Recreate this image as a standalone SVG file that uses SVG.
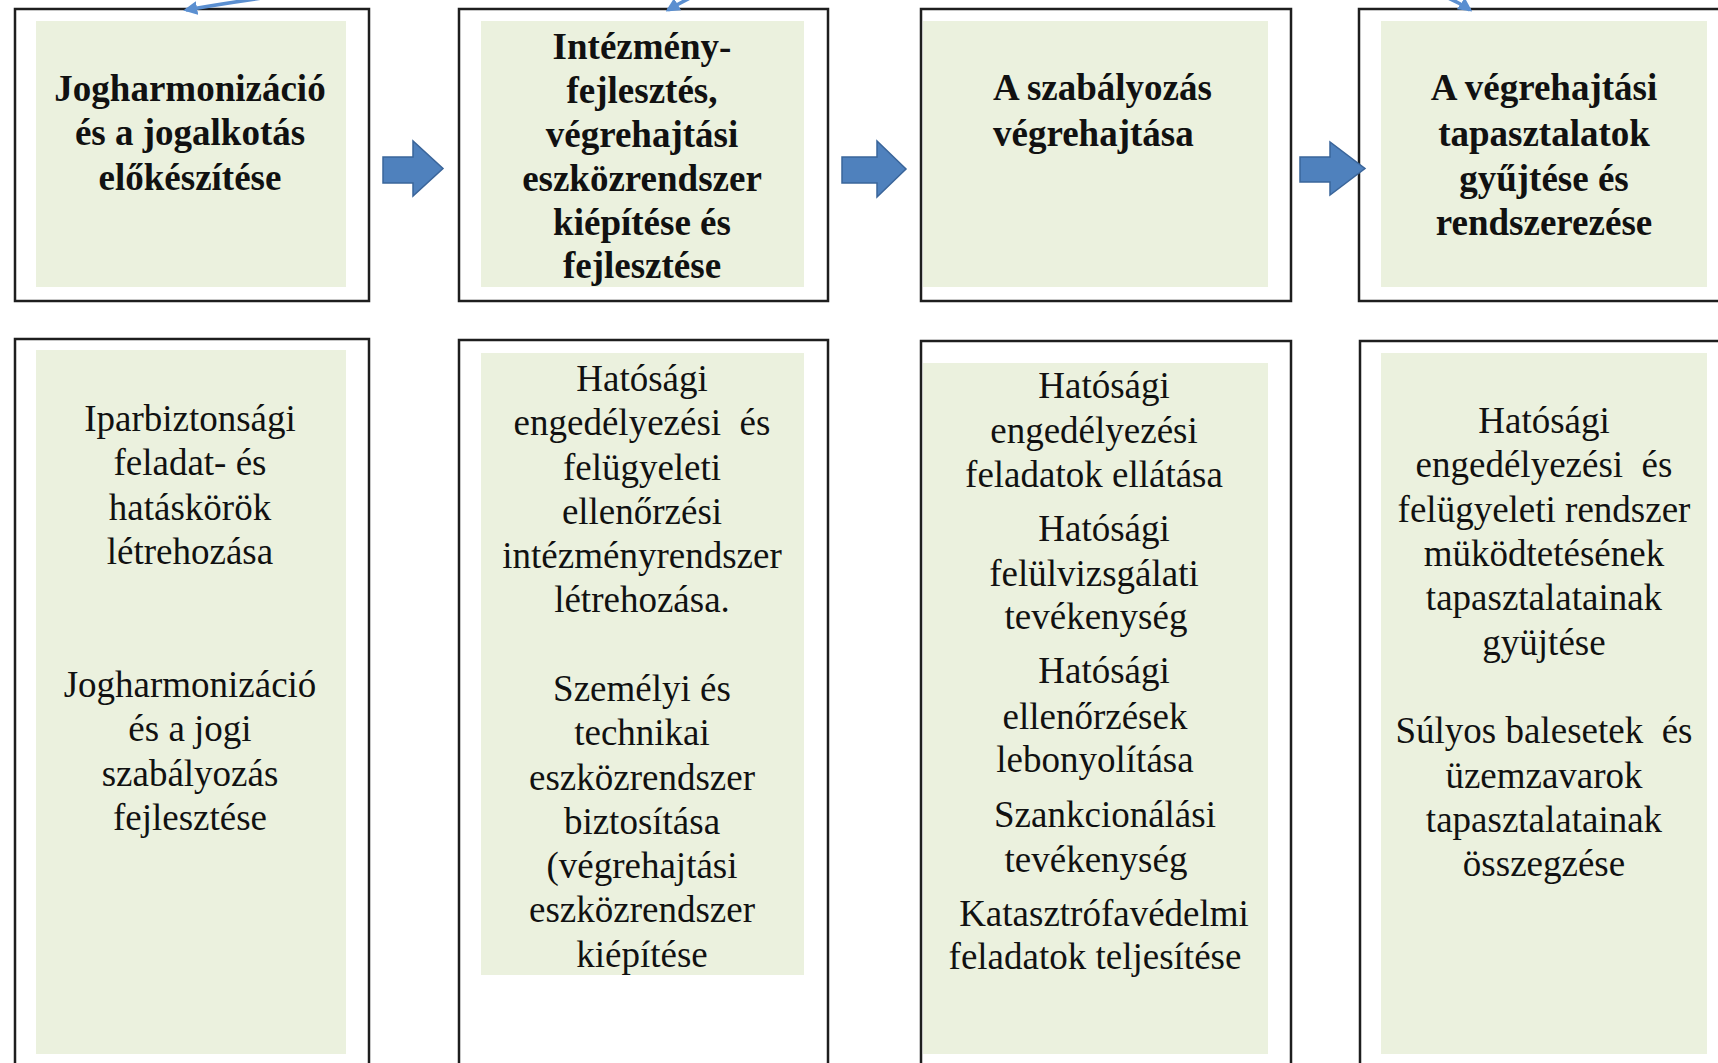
<svg xmlns="http://www.w3.org/2000/svg" width="1718" height="1063" viewBox="0 0 1718 1063">
<defs>
<style>
.box{fill:#ffffff;stroke:#1e1e1e;stroke-width:2.5}
.fill{fill:#ebf1de}
.t{font-family:"Liberation Serif","Times New Roman",serif;font-size:37px;fill:#111;text-anchor:middle}
.b{font-weight:bold}
.blk{fill:#4f81bd;stroke:#3a659a;stroke-width:1.5}
.cur{fill:none;stroke:#5b8fd0;stroke-width:3.5}
</style>
<marker id="ah" viewBox="0 0 10 10" refX="8" refY="5" markerWidth="4" markerHeight="4" orient="auto">
<path d="M0,0 L10,5 L0,10 z" fill="#5b8fd0"/>
</marker>
</defs>
<rect width="1718" height="1063" fill="#ffffff"/>

<g id="node-top1">
<rect class="box" x="15" y="9" width="354" height="292"/>
<rect class="fill" x="36" y="21" width="310" height="266"/>
<text class="t b" x="190"><tspan x="190" y="101">Jogharmonizáció</tspan><tspan x="190" y="145">és a jogalkotás</tspan><tspan x="190" y="190">előkészítése</tspan></text>
</g>

<g id="node-top2">
<rect class="box" x="459" y="9" width="369" height="292"/>
<rect class="fill" x="481" y="21" width="323" height="266"/>
<text class="t b"><tspan x="642" y="59">Intézmény-</tspan><tspan x="642" y="103">fejlesztés,</tspan><tspan x="642" y="147">végrehajtási</tspan><tspan x="642" y="191">eszközrendszer</tspan><tspan x="642" y="235">kiépítése és</tspan><tspan x="642" y="278">fejlesztése</tspan></text>
</g>

<g id="node-top3">
<rect class="box" x="921" y="9" width="370" height="292"/>
<rect class="fill" x="923" y="21" width="345" height="266"/>
<text class="t b" style="text-anchor:start"><tspan x="993" y="100">A szabályozás</tspan><tspan x="993" y="146">végrehajtása</tspan></text>
</g>

<g id="node-top4">
<rect class="box" x="1359" y="9" width="380" height="292"/>
<rect class="fill" x="1381" y="21" width="326" height="266"/>
<text class="t b"><tspan x="1544" y="100">A végrehajtási</tspan><tspan x="1544" y="146">tapasztalatok</tspan><tspan x="1544" y="191">gyűjtése és</tspan><tspan x="1544" y="235">rendszerezése</tspan></text>
</g>

<g id="node-bottom1">
<rect class="box" x="15" y="339" width="354" height="740"/>
<rect class="fill" x="36" y="350" width="310" height="704"/>
<text class="t"><tspan x="190" y="431">Iparbiztonsági</tspan><tspan x="190" y="475">feladat- és</tspan><tspan x="190" y="520">hatáskörök</tspan><tspan x="190" y="564">létrehozása</tspan><tspan x="190" y="697">Jogharmonizáció</tspan><tspan x="190" y="741">és a jogi</tspan><tspan x="190" y="786">szabályozás</tspan><tspan x="190" y="830">fejlesztése</tspan></text>
</g>

<g id="node-bottom2">
<rect class="box" x="459" y="340" width="369" height="740"/>
<rect class="fill" x="481" y="353" width="323" height="622"/>
<text class="t" xml:space="preserve"><tspan x="642" y="391">Hatósági</tspan><tspan x="642" y="435">engedélyezési  és</tspan><tspan x="642" y="480">felügyeleti</tspan><tspan x="642" y="524">ellenőrzési</tspan><tspan x="642" y="568">intézményrendszer</tspan><tspan x="642" y="612">létrehozása.</tspan><tspan x="642" y="701">Személyi és</tspan><tspan x="642" y="745">technikai</tspan><tspan x="642" y="790">eszközrendszer</tspan><tspan x="642" y="834">biztosítása</tspan><tspan x="642" y="878">(végrehajtási</tspan><tspan x="642" y="922">eszközrendszer</tspan><tspan x="642" y="967">kiépítése</tspan></text>
</g>

<g id="node-bottom3">
<rect class="box" x="921" y="341" width="370" height="740"/>
<rect class="fill" x="923" y="363" width="345" height="691"/>
<text class="t"><tspan x="1104" y="398">Hatósági</tspan><tspan x="1094" y="443">engedélyezési</tspan><tspan x="1094" y="487">feladatok ellátása</tspan><tspan x="1104" y="541">Hatósági</tspan><tspan x="1094" y="586">felülvizsgálati</tspan><tspan x="1096" y="629">tevékenység</tspan><tspan x="1104" y="683">Hatósági</tspan><tspan x="1095" y="729">ellenőrzések</tspan><tspan x="1095" y="772">lebonyolítása</tspan><tspan x="1105" y="827">Szankcionálási</tspan><tspan x="1096" y="872">tevékenység</tspan><tspan x="1104" y="926">Katasztrófavédelmi</tspan><tspan x="1095" y="969">feladatok teljesítése</tspan></text>
</g>

<g id="node-bottom4">
<rect class="box" x="1360" y="341" width="380" height="740"/>
<rect class="fill" x="1381" y="353" width="326" height="701"/>
<text class="t" xml:space="preserve"><tspan x="1544" y="433">Hatósági</tspan><tspan x="1544" y="477">engedélyezési  és</tspan><tspan x="1544" y="522">felügyeleti rendszer</tspan><tspan x="1544" y="566">müködtetésének</tspan><tspan x="1544" y="610">tapasztalatainak</tspan><tspan x="1544" y="655">gyüjtése</tspan><tspan x="1544" y="743">Súlyos balesetek  és</tspan><tspan x="1544" y="788">üzemzavarok</tspan><tspan x="1544" y="832">tapasztalatainak</tspan><tspan x="1544" y="876">összegzése</tspan></text>
</g>

<g id="connectors">
<path class="blk" d="M383,157 L413,157 L413,141 L443,168.5 L413,196 L413,183 L383,183 z"/>
<path class="blk" d="M842,157 L877,157 L877,141 L906,169 L877,197 L877,183 L842,183 z"/>
<path class="blk" d="M1300,157 L1330,157 L1330,142 L1365,168.5 L1330,195 L1330,182 L1300,182 z"/>
<path class="cur" d="M262,-2 Q220,4 186,10" marker-end="url(#ah)"/>
<path class="cur" d="M690,-2 Q678,4 668,10" marker-end="url(#ah)"/>
<path class="cur" d="M1448,-2 Q1460,3 1470,10" marker-end="url(#ah)"/>
</g>
</svg>
